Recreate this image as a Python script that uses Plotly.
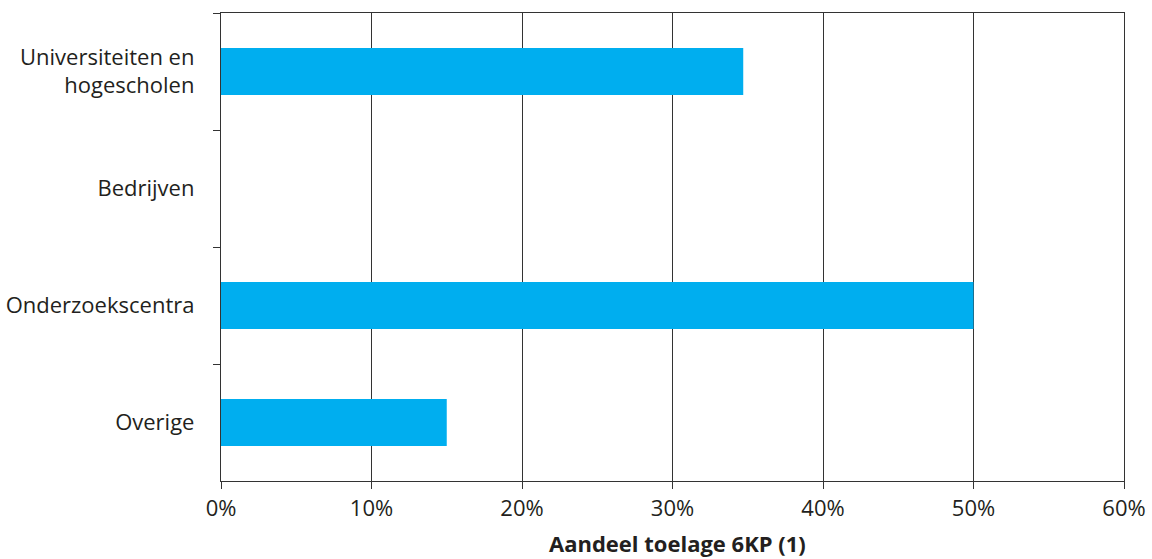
import plotly.graph_objects as go

categories = ["Universiteiten en<br>hogescholen", "Bedrijven", "Onderzoekscentra", "Overige"]
shares = [0.347, 0.0, 0.50, 0.15]
x_ticks = [0, 0.1, 0.2, 0.3, 0.4, 0.5, 0.6]

COLORS = {
    "bar": "#00aeef",
    "line": "#333333",
    "text": "#231f20",
}
FONT = "Open Sans, Lato, sans-serif"

fig = go.Figure()
fig.add_trace(go.Bar(
    y=categories, x=shares, orientation="h",
    marker=dict(color=COLORS["bar"], line=dict(width=0)),
    width=0.4,
    hovertemplate="%{y}: %{x:.1%}<extra></extra>",
))

fig.update_layout(
    width=1152, height=559,
    plot_bgcolor="white", paper_bgcolor="white",
    showlegend=False,
    font=dict(family=FONT, size=22, color=COLORS["text"]),
    margin=dict(l=221, r=28, t=13, b=78, autoexpand=False),
    xaxis=dict(
        range=[0, 0.6], tickvals=x_ticks, tickformat=".0%",
        showgrid=True, gridcolor=COLORS["line"], gridwidth=1.3,
        showline=True, linecolor=COLORS["line"], linewidth=1.3, mirror=True,
        ticks="outside", ticklen=7, tickcolor=COLORS["line"], tickwidth=1.3,
        zeroline=False, automargin=False,
    ),
    yaxis=dict(
        autorange="reversed",
        showline=True, linecolor=COLORS["line"], linewidth=1.3, mirror=True,
        ticks="outside", ticklen=7, tickcolor=COLORS["line"], tickwidth=1.3,
        tickson="boundaries", showgrid=False, automargin=False,
        ticklabelstandoff=21,
    ),
    annotations=[dict(
        text="<b>Aandeel toelage 6KP (1)</b>",
        xref="paper", yref="paper", x=0.5, y=0, xshift=5,
        xanchor="center", yanchor="top", yshift=-46, borderpad=0,
        showarrow=False, font=dict(size=22),
    )],
)

# drop the default 8px body margin so the figure sits at the window origin
fig.write_html("out.html", config={"displayModeBar": False},
               post_script="document.body.style.margin='0';")
